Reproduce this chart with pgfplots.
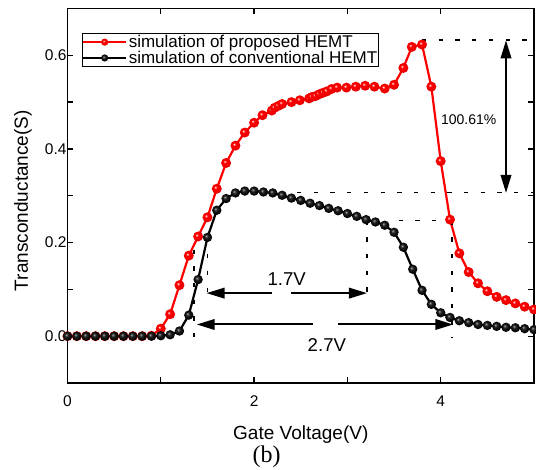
\documentclass[border=0pt]{standalone}
\usepackage{fontspec}
\setmainfont{Liberation Sans}
\newfontfamily\seriffont{Liberation Serif}
\usepackage{pgfplots}
\pgfplotsset{compat=1.18}
\usetikzlibrary{arrows.meta,plotmarks}

\pgfdeclareradialshading{redballsh}{\pgfpoint{-8bp}{8bp}}{color(0bp)=(white); color(3bp)=(red!40!white); color(8bp)=(red); color(24bp)=(red!92!black); color(33bp)=(red!70!black); color(50bp)=(red!70!black)}
\pgfdeclareradialshading{blackballsh}{\pgfpoint{-8bp}{8bp}}{color(0bp)=(black!30); color(4bp)=(black!60); color(10bp)=(black!88); color(25bp)=(black); color(50bp)=(black)}
\pgfdeclareplotmark{redball}{\pgfpathcircle{\pgfpointorigin}{\pgfplotmarksize}\pgfshadepath{redballsh}{0}\pgfusepath{}}
\pgfdeclareplotmark{blackball}{\pgfpathcircle{\pgfpointorigin}{\pgfplotmarksize}\pgfshadepath{blackballsh}{0}\pgfusepath{}}

\begin{document}
\begin{tikzpicture}
\begin{axis}[name=ax, scale only axis, width=466.5pt, height=374.5pt,
  xmin=0, xmax=5, ymin=-0.1, ymax=0.7,
  xtick={0,1,2,3,4,5}, xticklabels={0,,2,,4,},
  ytick={0,0.1,0.2,0.3,0.4,0.5,0.6}, yticklabels={0.0,,0.2,,0.4,,0.6},
  tick align=inside, major tick length=6pt,
  axis line style={line width=1.6pt},
  tick style={line width=1.3pt, black},
  ticklabel style={font=\fontsize{15.5}{18}\selectfont},
  xticklabel style={yshift=-9pt},
  yticklabel style={xshift=2.5pt},
  xlabel={Gate Voltage(V)}, ylabel={Transconductance(S)},
  label style={font=\fontsize{19}{22}\selectfont},
  xlabel style={at={(axis description cs:0.5,-0.152)}, anchor=base},
  ylabel style={at={(axis description cs:-0.0954,0.487)}, anchor=center, rotate=0},
  legend style={at={(axis description cs:0.0304,0.935)}, anchor=north west,
    draw=black, line width=0.8pt, inner xsep=0pt, inner ysep=0.5pt,
    font=\fontsize{17}{19}\selectfont, row sep=-1pt,
    nodes={inner sep=1.5pt}},
  legend cell align=left,
  legend image code/.code={
    \draw[mark repeat=2, mark phase=2, #1, mark size=3.6pt]
      plot coordinates {(0pt,0pt) (21.5pt,0pt) (43pt,0pt)};
  },
]
\addplot[red, line width=2.2pt, mark=redball, mark size=5pt] coordinates {
(0.0,0.000) (0.1,0.000) (0.2,0.000) (0.3,0.000) (0.4,0.000) (0.5,0.000)
(0.6,0.000) (0.7,0.000) (0.8,0.000) (0.9,0.001) (1.0,0.016) (1.1,0.047)
(1.2,0.109) (1.3,0.172) (1.4,0.213) (1.5,0.254) (1.6,0.315) (1.7,0.370)
(1.8,0.407) (1.9,0.435) (2.0,0.456) (2.09,0.472) (2.19,0.482) (2.22,0.488)
(2.26,0.492) (2.30,0.496) (2.40,0.500) (2.49,0.504) (2.59,0.508) (2.62,0.511)
(2.66,0.513) (2.70,0.517) (2.74,0.520) (2.78,0.523) (2.83,0.528) (2.89,0.531)
(2.99,0.531) (3.09,0.533) (3.19,0.535) (3.29,0.533) (3.4,0.529) (3.5,0.537)
(3.6,0.573) (3.69,0.618) (3.8,0.623) (3.9,0.533) (4.0,0.374) (4.1,0.249)
(4.2,0.177) (4.3,0.137) (4.4,0.113) (4.5,0.096) (4.6,0.084) (4.7,0.077)
(4.8,0.070) (4.9,0.063) (5.0,0.057)
};
\addlegendentry{simulation of proposed HEMT}
\addplot[black, line width=2.2pt, mark=blackball, mark size=4.7pt] coordinates {
(0.0,0.000) (0.1,0.000) (0.2,0.000) (0.3,0.000) (0.4,0.000) (0.5,0.000)
(0.6,0.000) (0.7,0.000) (0.8,0.000) (0.9,0.000) (1.0,0.001) (1.1,0.003)
(1.2,0.011) (1.3,0.045) (1.4,0.121) (1.5,0.211) (1.6,0.269) (1.7,0.294)
(1.8,0.306) (1.9,0.310) (2.0,0.310) (2.1,0.308) (2.2,0.306) (2.3,0.301)
(2.4,0.295) (2.5,0.290) (2.6,0.284) (2.7,0.279) (2.8,0.273) (2.9,0.268)
(3.0,0.262) (3.1,0.256) (3.2,0.249) (3.3,0.244) (3.4,0.237) (3.5,0.222)
(3.6,0.190) (3.7,0.143) (3.8,0.098) (3.9,0.068) (4.0,0.050) (4.1,0.040)
(4.2,0.033) (4.3,0.029) (4.4,0.025) (4.5,0.023) (4.6,0.021) (4.7,0.019)
(4.8,0.018) (4.9,0.016) (5.0,0.014)
};
\addlegendentry{simulation of conventional HEMT}

\tikzset{dashpat/.style={black, line width=1.8pt, dash pattern=on 4.3pt off 12.4pt}}
\draw[dashpat] (axis cs:3.80,0.632) -- (axis cs:5,0.632);
\draw[dashpat] (axis cs:2.46,0.307) -- (axis cs:5,0.307);
\draw[dashpat] (axis cs:3.55,0.247) -- (axis cs:4.11,0.247);
\draw[dashpat] (axis cs:4.12,0.247) -- (axis cs:4.12,-0.004);
\draw[dashpat] (axis cs:3.21,0.247) -- (axis cs:3.21,0.092);
\draw[dashpat] (axis cs:1.50,0.211) -- (axis cs:1.50,0.092);
\draw[dashpat] (axis cs:1.355,0.185) -- (axis cs:1.355,-0.005);

\tikzset{arr/.style={black, line width=2pt, -{Triangle[length=18pt,width=10.5pt]}}}
\draw[black, line width=2pt, {Triangle[length=18pt,width=10.5pt]}-{Triangle[length=18pt,width=10.5pt]}] (axis cs:4.70,0.632) -- (axis cs:4.70,0.306);
\draw[arr] (axis cs:2.19,0.092) -- (axis cs:1.49,0.092);
\draw[arr] (axis cs:2.40,0.092) -- (axis cs:3.21,0.092);
\draw[arr] (axis cs:2.635,0.025) -- (axis cs:1.385,0.025);
\draw[arr] (axis cs:2.90,0.025) -- (axis cs:4.135,0.025);

\node[font=\fontsize{14}{16}\selectfont] at (axis cs:4.30,0.462) {100.61\%};
\node[font=\fontsize{18.6}{21}\selectfont] at (axis cs:2.35,0.122) {1.7V};
\node[font=\fontsize{18.6}{21}\selectfont] at (axis cs:2.78,-0.018) {2.7V};
\end{axis}
\node[font=\seriffont\fontsize{24}{27}\selectfont] at ([shift={(199pt,-74pt)}]ax.south west) {(b)};
\pgfresetboundingbox
\path ([shift={(-67.5pt,-87pt)}]ax.south west) rectangle ([shift={(2pt,8.5pt)}]ax.north east);
\end{tikzpicture}
\end{document}
